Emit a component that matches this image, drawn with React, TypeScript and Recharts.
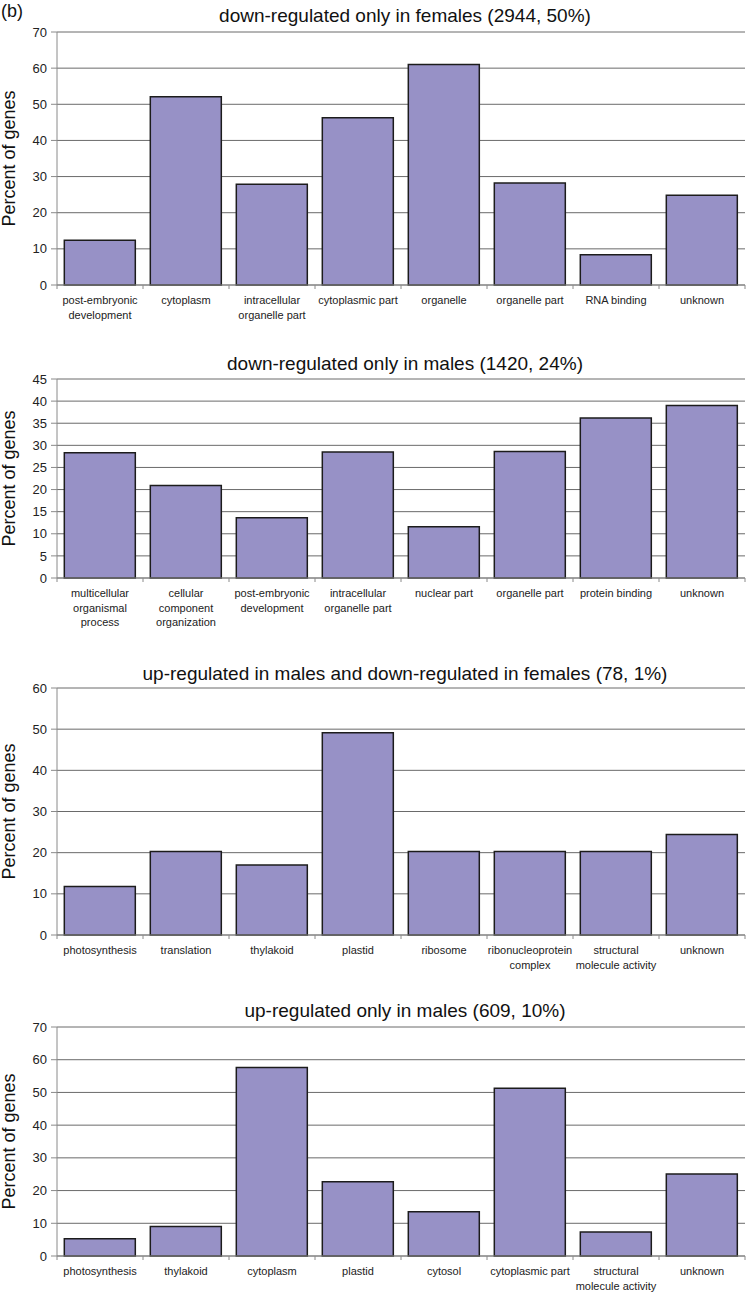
import React from 'react';
import { BarChart, Bar, XAxis, YAxis, CartesianGrid } from 'recharts';

const FONT = '"Liberation Sans", Arial, Helvetica, sans-serif';
const BAR_FILL = '#9791C6';
const BAR_STROKE = '#1c1c1c';
const AXIS_GRAY = '#8a8a8a';
const GRID_GRAY = '#6a6a6a';

// ---- Panel 1: down-regulated only in females ----
const femaleDownTitle = 'down-regulated only in females (2944, 50%)';
const femaleDownCategories = [
  'post-embryonic development',
  'cytoplasm',
  'intracellular organelle part',
  'cytoplasmic part',
  'organelle',
  'organelle part',
  'RNA binding',
  'unknown',
];
const femaleDownValues = [12.4, 52.1, 27.9, 46.3, 61.0, 28.2, 8.4, 24.8];
const femaleDownTicks = [0, 10, 20, 30, 40, 50, 60, 70];

// ---- Panel 2: down-regulated only in males ----
const maleDownTitle = 'down-regulated only in males (1420, 24%)';
const maleDownCategories = [
  'multicellular organismal process',
  'cellular component organization',
  'post-embryonic development',
  'intracellular organelle part',
  'nuclear part',
  'organelle part',
  'protein binding',
  'unknown',
];
const maleDownValues = [28.3, 20.9, 13.6, 28.5, 11.6, 28.6, 36.2, 39.0];
const maleDownTicks = [0, 5, 10, 15, 20, 25, 30, 35, 40, 45];

// ---- Panel 3: up-regulated in males and down-regulated in females ----
const mixedTitle = 'up-regulated in males and down-regulated in females (78, 1%)';
const mixedCategories = [
  'photosynthesis',
  'translation',
  'thylakoid',
  'plastid',
  'ribosome',
  'ribonucleoprotein complex',
  'structural molecule activity',
  'unknown',
];
const mixedValues = [11.8, 20.3, 17.0, 49.1, 20.3, 20.3, 20.3, 24.4];
const mixedTicks = [0, 10, 20, 30, 40, 50, 60];

// ---- Panel 4: up-regulated only in males ----
const maleUpTitle = 'up-regulated only in males (609, 10%)';
const maleUpCategories = [
  'photosynthesis',
  'thylakoid',
  'cytoplasm',
  'plastid',
  'cytosol',
  'cytoplasmic part',
  'structural molecule activity',
  'unknown',
];
const maleUpValues = [5.3, 9.0, 57.6, 22.7, 13.5, 51.3, 7.3, 25.1];
const maleUpTicks = [0, 10, 20, 30, 40, 50, 60, 70];

const yAxisLabel = 'Percent of genes';
const panelLetter = '(b)';

// ---- layout (positions / sizes only) ----
const CHART_W = 748;
const Y_AXIS_W = 57;
const RIGHT_M = 3;
const BAND = (CHART_W - Y_AXIS_W - RIGHT_M) / 8;

const layouts = [
  { top: 0, marginTop: 32, plotH: 253, xAxisH: 45, titleY: 22 },
  { top: 330, marginTop: 49, plotH: 199, xAxisH: 55, titleY: 370 },
  { top: 640, marginTop: 48, plotH: 247, xAxisH: 40, titleY: 680 },
  { top: 980, marginTop: 47, plotH: 229, xAxisH: 37, titleY: 1017 },
];

const panels = [
  { title: femaleDownTitle, categories: femaleDownCategories, values: femaleDownValues, ticks: femaleDownTicks },
  { title: maleDownTitle, categories: maleDownCategories, values: maleDownValues, ticks: maleDownTicks },
  { title: mixedTitle, categories: mixedCategories, values: mixedValues, ticks: mixedTicks },
  { title: maleUpTitle, categories: maleUpCategories, values: maleUpValues, ticks: maleUpTicks },
];

function wrapLabel(text: string, maxChars: number): string[] {
  const words = text.split(' ');
  const lines: string[] = [];
  let cur = '';
  for (const w of words) {
    if (!cur) cur = w;
    else if ((cur + ' ' + w).length <= maxChars) cur = cur + ' ' + w;
    else {
      lines.push(cur);
      cur = w;
    }
  }
  if (cur) lines.push(cur);
  return lines;
}

function CategoryTick(props: any) {
  const { x, y, payload, index } = props;
  const lines = wrapLabel(String(payload.value), 17);
  return (
    <g>
      {index === 0 && (
        <line x1={x - BAND / 2} x2={x - BAND / 2} y1={y} y2={y + 4} stroke={AXIS_GRAY} />
      )}
      <line x1={x + BAND / 2} x2={x + BAND / 2} y1={y} y2={y + 4} stroke={AXIS_GRAY} />
      <text x={x} y={y + 19} textAnchor="middle" fontSize={11} fill="#222" fontFamily={FONT}>
        {lines.map((l, i) => (
          <tspan key={i} x={x} dy={i === 0 ? 0 : 14.5}>
            {l}
          </tspan>
        ))}
      </text>
    </g>
  );
}

function YLabel(props: any) {
  const vb = props.viewBox || {};
  const cy = (vb.y || 0) + (vb.height || 0) / 2;
  const x = 14.5;
  return (
    <text
      x={x}
      y={cy}
      transform={`rotate(-90 ${x} ${cy})`}
      textAnchor="middle"
      fontSize={18}
      fontFamily={FONT}
      fill="#111"
    >
      {yAxisLabel}
    </text>
  );
}

function Panel({ panel, layout }: { panel: typeof panels[number]; layout: typeof layouts[number] }) {
  const data = panel.categories.map((c, i) => ({ category: c, value: panel.values[i] }));
  const height = layout.marginTop + layout.plotH + layout.xAxisH;
  const maxTick = panel.ticks[panel.ticks.length - 1];
  return (
    <div style={{ position: 'absolute', left: 0, top: layout.top, width: CHART_W, height }}>
      <BarChart
        width={CHART_W}
        height={height}
        data={data}
        margin={{ top: layout.marginTop, right: RIGHT_M, left: 0, bottom: 0 }}
        barCategoryGap="8.5%"
      >
        <CartesianGrid vertical={false} stroke={GRID_GRAY} strokeWidth={1} />
        <XAxis
          dataKey="category"
          height={layout.xAxisH}
          interval={0}
          tickLine={false}
          tickSize={0}
          tickMargin={0}
          axisLine={{ stroke: AXIS_GRAY, strokeWidth: 1 }}
          tick={<CategoryTick />}
        />
        <YAxis
          width={Y_AXIS_W}
          domain={[0, maxTick]}
          ticks={panel.ticks}
          interval={0}
          allowDecimals={false}
          tickSize={6}
          tickMargin={4}
          axisLine={{ stroke: AXIS_GRAY, strokeWidth: 1 }}
          tickLine={{ stroke: AXIS_GRAY }}
          tick={{ fontSize: 13, fill: '#222', fontFamily: FONT }}
          label={<YLabel />}
        />
        <Bar
          dataKey="value"
          fill={BAR_FILL}
          stroke={BAR_STROKE}
          strokeWidth={1.5}
          isAnimationActive={false}
        />
      </BarChart>
    </div>
  );
}

export default function App() {
  return (
    <div
      style={{
        position: 'absolute',
        left: 0,
        top: 0,
        width: 748,
        height: 1293,
        background: '#fff',
        fontFamily: FONT,
      }}
    >
      {panels.map((p, i) => (
        <Panel key={i} panel={p} layout={layouts[i]} />
      ))}
      <svg
        width={748}
        height={1293}
        style={{ position: 'absolute', left: 0, top: 0, pointerEvents: 'none' }}
      >
        <text x={1} y={17} fontSize={18} fontFamily={FONT} fill="#111">
          {panelLetter}
        </text>
        {panels.map((p, i) => (
          <text
            key={i}
            x={405}
            y={layouts[i].titleY}
            textAnchor="middle"
            fontSize={19}
            fontFamily={FONT}
            fill="#111"
          >
            {p.title}
          </text>
        ))}
      </svg>
    </div>
  );
}
